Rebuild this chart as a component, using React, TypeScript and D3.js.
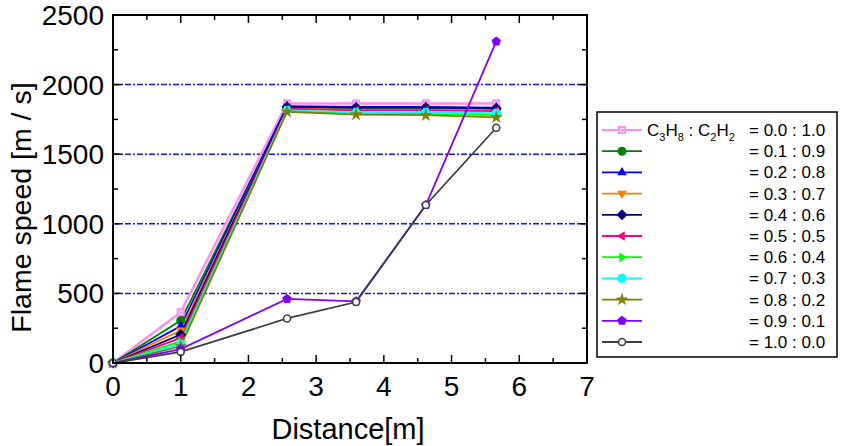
import React from "react";
import * as d3 from "d3";

const distances = [0, 1.0, 2.57, 3.59, 4.62, 5.66];
const ratioLabels = ["0.0 : 1.0", "0.1 : 0.9", "0.2 : 0.8", "0.3 : 0.7", "0.4 : 0.6", "0.5 : 0.5", "0.6 : 0.4", "0.7 : 0.3", "0.8 : 0.2", "0.9 : 0.1", "1.0 : 0.0"];
const s00 = [0, 365, 1865, 1865, 1865, 1865];
const s01 = [0, 305, 1835, 1830, 1830, 1825];
const s02 = [0, 265, 1845, 1840, 1840, 1835];
const s03 = [0, 235, 1830, 1820, 1820, 1815];
const s04 = [0, 205, 1840, 1835, 1835, 1830];
const s05 = [0, 180, 1825, 1815, 1815, 1810];
const s06 = [0, 155, 1810, 1795, 1790, 1780];
const s07 = [0, 135, 1815, 1800, 1800, 1795];
const s08 = [0, 120, 1805, 1785, 1780, 1765];
const s09 = [0, 100, 460, 443, 1135, 2310];
const s10 = [0, 80, 320, 438, 1135, 1690];
const seriesValues = [s00, s01, s02, s03, s04, s05, s06, s07, s08, s09, s10];
const colors = ["#ff8cf0", "#008000", "#0000ff", "#ff8000", "#000080", "#ff0080", "#00ff00", "#00ffff", "#808000", "#8000ff", "#404040"];
const markers = ["square", "circle", "triUp", "triDown", "diamond", "triLeft", "triRight", "hexagon", "star", "pentagon", "openCircle"];
const xTicks = [0, 1, 2, 3, 4, 5, 6, 7];
const yTicks = [0, 500, 1000, 1500, 2000, 2500];
const gridValues = [500, 1000, 1500, 2000];

const FONT = "'Liberation Sans', Arial, sans-serif";

function polygon(n: number, r: number, rot: number) {
  const pts: string[] = [];
  for (let i = 0; i < n; i++) {
    const a = rot + (i * 2 * Math.PI) / n;
    pts.push(`${(r * Math.cos(a)).toFixed(2)},${(r * Math.sin(a)).toFixed(2)}`);
  }
  return pts.join(" ");
}

function Marker({ type, color, x, y }: { type: string; color: string; x: number; y: number }) {
  const t = `translate(${x},${y})`;
  switch (type) {
    case "square":
      return (
        <g transform={t}>
          <rect x={-4} y={-4} width={8} height={8} fill={color} />
          <rect x={-1.5} y={-1.5} width={3.5} height={3.5} fill="none" stroke="#ffd0f8" strokeWidth={1} />
        </g>
      );
    case "circle":
      return <circle cx={x} cy={y} r={4.5} fill={color} />;
    case "openCircle":
      return <circle cx={x} cy={y} r={3.5} fill="#fff" stroke={color} strokeWidth={1.6} />;
    case "triUp":
      return <polygon transform={t} points={polygon(3, 5.5, -Math.PI / 2)} fill={color} />;
    case "triDown":
      return <polygon transform={t} points={polygon(3, 5.5, Math.PI / 2)} fill={color} />;
    case "triLeft":
      return <polygon transform={t} points={polygon(3, 5.5, Math.PI)} fill={color} />;
    case "triRight":
      return <polygon transform={t} points={polygon(3, 5.5, 0)} fill={color} />;
    case "diamond":
      return <polygon transform={t} points={polygon(4, 5.5, 0)} fill={color} />;
    case "hexagon":
      return <polygon transform={t} points={polygon(6, 5, 0)} fill={color} />;
    case "pentagon":
      return <polygon transform={t} points={polygon(5, 5, -Math.PI / 2)} fill={color} />;
    case "star":
      return <path transform={t} d={d3.symbol(d3.symbolStar, 55)() || ""} fill={color} />;
    default:
      return null;
  }
}

export default function App() {
  const W = 841, H = 446;
  const left = 113, right = 587, top = 15, bottom = 363;
  const x = d3.scaleLinear().domain([0, 7]).range([left, right]);
  const y = d3.scaleLinear().domain([0, 2500]).range([bottom, top]);
  const line = d3.line<number>().x((_, i) => x(distances[i])).y((v) => y(v));

  const xMinor = d3.range(0.5, 7, 1);
  const yMinor = d3.range(250, 2500, 500);

  const legX = 597, legY = 112, legW = 240, legH = 245;
  const rowY0 = 130, rowDy = 21.2;

  return (
    <svg width={W} height={H} style={{ position: "absolute", left: 0, top: 0, background: "#fff" }}>
      {/* grid */}
      {gridValues.map((g) => (
        <line key={g} x1={left} x2={right} y1={y(g)} y2={y(g)} stroke="#1414e6" strokeWidth={1.5} strokeDasharray="6,2,2,2" />
      ))}
      {/* series lines */}
      {seriesValues.map((vals, si) => (
        <path key={"l" + si} d={line(vals) || ""} fill="none" stroke={colors[si]} strokeWidth={si === 0 ? 2.5 : 1.8} />
      ))}
      {seriesValues.map((vals, si) => (
        <g key={"m" + si}>
          {vals.map((v, i) => (
            <Marker key={i} type={markers[si]} color={colors[si]} x={x(distances[i])} y={y(v)} />
          ))}
        </g>
      ))}
      {/* frame */}
      <rect x={left} y={top} width={right - left} height={bottom - top} fill="none" stroke="#000" strokeWidth={2} />
      {/* x ticks */}
      {xTicks.map((t) => (
        <g key={"xt" + t}>
          <line x1={x(t)} x2={x(t)} y1={bottom} y2={bottom - 8} stroke="#000" strokeWidth={1.5} />
          <line x1={x(t)} x2={x(t)} y1={top} y2={top + 8} stroke="#000" strokeWidth={1.5} />
          <text x={x(t)} y={396} textAnchor="middle" fontFamily={FONT} fontSize={28} fill="#000">{t}</text>
        </g>
      ))}
      {xMinor.map((t) => (
        <g key={"xm" + t}>
          <line x1={x(t)} x2={x(t)} y1={bottom} y2={bottom - 5} stroke="#000" strokeWidth={1.5} />
          <line x1={x(t)} x2={x(t)} y1={top} y2={top + 5} stroke="#000" strokeWidth={1.5} />
        </g>
      ))}
      {/* y ticks */}
      {yTicks.map((t) => (
        <g key={"yt" + t}>
          <line x1={left} x2={left + 8} y1={y(t)} y2={y(t)} stroke="#000" strokeWidth={1.5} />
          <line x1={right} x2={right - 8} y1={y(t)} y2={y(t)} stroke="#000" strokeWidth={1.5} />
          <text x={104} y={y(t) + 10} textAnchor="end" fontFamily={FONT} fontSize={28} fill="#000">{t}</text>
        </g>
      ))}
      {yMinor.map((t) => (
        <g key={"ym" + t}>
          <line x1={left} x2={left + 5} y1={y(t)} y2={y(t)} stroke="#000" strokeWidth={1.5} />
          <line x1={right} x2={right - 5} y1={y(t)} y2={y(t)} stroke="#000" strokeWidth={1.5} />
        </g>
      ))}
      {/* axis titles */}
      <text x={348} y={439} textAnchor="middle" fontFamily={FONT} fontSize={29} fill="#000">Distance[m]</text>
      <text transform={`translate(31,${(82 + 333) / 2}) rotate(-90)`} textAnchor="middle" fontFamily={FONT} fontSize={28.5} fill="#000">Flame speed [m / s]</text>
      {/* legend */}
      <rect x={legX} y={legY} width={legW} height={legH} fill="#fff" stroke="#000" strokeWidth={1.5} />
      {ratioLabels.map((lab, i) => {
        const ry = rowY0 + i * rowDy;
        return (
          <g key={"lg" + i}>
            <line x1={602} x2={642} y1={ry} y2={ry} stroke={colors[i]} strokeWidth={1.8} />
            <Marker type={markers[i]} color={colors[i]} x={622} y={ry} />
            <text x={749} y={ry + 6} fontFamily={FONT} fontSize={17} fill="#000">{"= " + lab}</text>
          </g>
        );
      })}
      <text x={647} y={rowY0 + 6} fontFamily={FONT} fontSize={17} fill="#000">
        C<tspan fontSize={11} dy={5}>3</tspan><tspan dy={-5}>H</tspan><tspan fontSize={11} dy={5}>8</tspan>
        <tspan dy={-5}> : C</tspan><tspan fontSize={11} dy={5}>2</tspan><tspan dy={-5}>H</tspan><tspan fontSize={11} dy={5}>2</tspan>
      </text>
    </svg>
  );
}
